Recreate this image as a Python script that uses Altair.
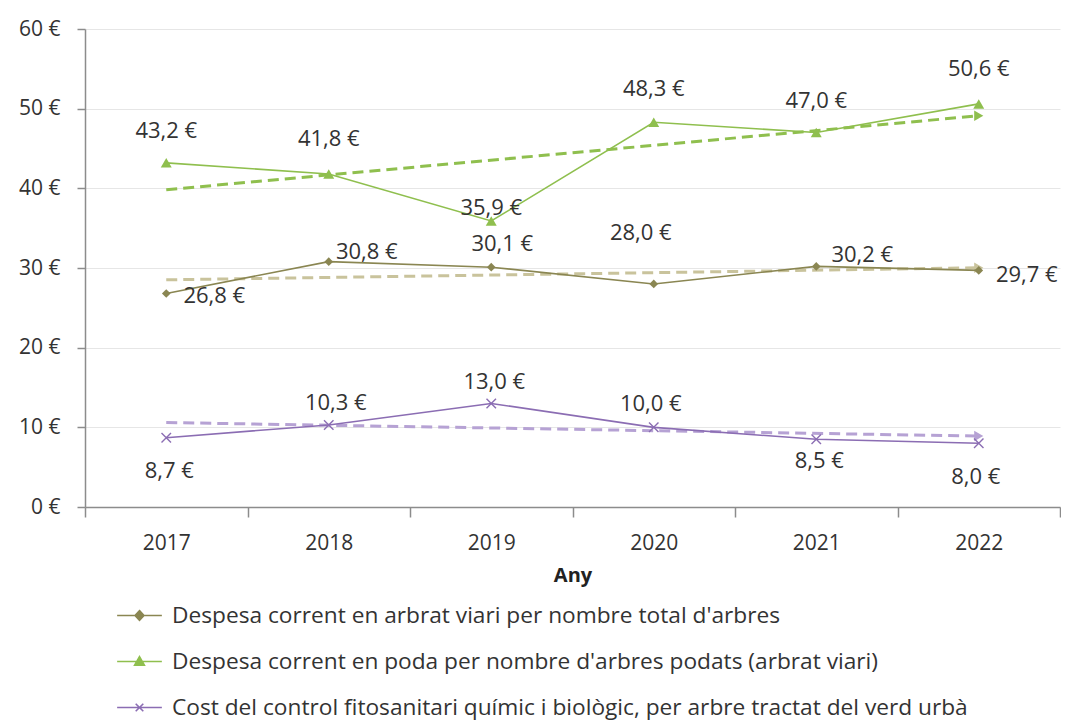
import altair as alt
import pandas as pd

# ---- data ----
years = [2017, 2018, 2019, 2020, 2021, 2022]
series_names = [
    "Despesa corrent en arbrat viari per nombre total d'arbres",
    "Despesa corrent en poda per nombre d'arbres podats (arbrat viari)",
    "Cost del control fitosanitari químic i biològic, per arbre tractat del verd urbà",
]
despesa_total = [26.8, 30.8, 30.1, 28.0, 30.2, 29.7]
despesa_poda = [43.2, 41.8, 35.9, 48.3, 47.0, 50.6]
cost_fitosanitari = [8.7, 10.3, 13.0, 10.0, 8.5, 8.0]

# ---- label placement (pixel offsets relative to the point) ----
label_dx = [
    [48, 38, 11, -13, 46, 48],
    [0, 0, 0, 0, 0, 0],
    [3, 7, 3, -3, 3, -3],
]
label_dy = [
    [3, -10, -23, -51, -11, 5],
    [-32, -35, -13, -33, -32, -35],
    [33, -22, -21, -23, 22, 34],
]

line_colors = ["#8a8652", "#8fbf4e", "#8b6db3"]
trend_colors = ["#c9c39c", "#8fbf4e", "#b6a2d4"]
FONT = "Open Sans"

rows = []
for s, vals in zip(series_names, [despesa_total, despesa_poda, cost_fitosanitari]):
    for y, v in zip(years, vals):
        rows.append({"serie": s, "year": y, "value": v,
                     "label": f"{v:.1f}".replace(".", ",") + " €"})
df = pd.DataFrame(rows)

base = alt.Chart(df)
x_enc = alt.X("year:O", title="Any",
              axis=alt.Axis(labelAngle=0, tickBand="extent", tickSize=10,
                            labelPadding=15, titlePadding=12,
                            domainColor="#8c8c8c", tickColor="#8c8c8c",
                            domainWidth=1.5, tickWidth=1.5,
                            labelFontSize=21, titleFontSize=20, titleFontWeight="bold",
                            labelColor="#333333", titleColor="#222222",
                            labelFont=FONT, titleFont=FONT))
y_enc = alt.Y("value:Q", title=None,
              scale=alt.Scale(domain=[0, 60], nice=False),
              axis=alt.Axis(values=[0, 10, 20, 30, 40, 50, 60],
                            labelExpr="datum.value + ' €'",
                            tickSize=8, labelPadding=17,
                            domainColor="#8c8c8c", tickColor="#8c8c8c",
                            domainWidth=1.5, tickWidth=1.5,
                            gridColor="#e6e6e6", gridWidth=1,
                            labelFontSize=21, labelColor="#333333", labelFont=FONT))

layers = []

# trend lines (linear regression computed by Vega-Lite)
for i, s in enumerate(series_names):
    tr = base.transform_filter(alt.datum.serie == s).transform_regression(
        "year", "value")
    layers.append(tr.mark_line(strokeDash=[11, 6], strokeWidth=3,
                               color=trend_colors[i]).encode(x=x_enc, y=y_enc))
    layers.append(tr.transform_filter("datum.year > 2021.5").mark_point(
        shape="triangle-right", filled=True, size=110, opacity=1,
        color=trend_colors[i]).encode(x=x_enc, y=y_enc))

# series lines
for i, s in enumerate(series_names):
    layers.append(base.transform_filter(alt.datum.serie == s).mark_line(
        strokeWidth=1.6, color=line_colors[i]).encode(x=x_enc, y=y_enc))

# markers
marker_shapes = ["diamond", "triangle-up", "M-1,-1L1,1M-1,1L1,-1"]
marker_sizes = [75, 120, 90]
for i, s in enumerate(series_names):
    filled = i < 2
    layers.append(base.transform_filter(alt.datum.serie == s).mark_point(
        shape=marker_shapes[i], size=marker_sizes[i], filled=filled,
        strokeWidth=1.4, opacity=1, color=line_colors[i]).encode(x=x_enc, y=y_enc))

# data labels
for i, s in enumerate(series_names):
    for j, yv in enumerate(years):
        layers.append(base.transform_filter(
            (alt.datum.serie == s) & (alt.datum.year == yv)).mark_text(
            dx=label_dx[i][j], dy=label_dy[i][j], fontSize=22, font=FONT,
            color="#333333", align="center", baseline="middle").encode(
            x=x_enc, y=y_enc, text="label:N"))

# legend-only layer (no visible points; legend shows line + marker symbols)
legend_paths = [
    "M-1,0H1M0,-0.22L0.2,0L0,0.22L-0.2,0Z",
    "M-1,0H1M0,-0.22L0.22,0.17L-0.22,0.17Z",
    "M-1,0H1M-0.17,-0.17L0.17,0.17M-0.17,0.17L0.17,-0.17",
]
leg_scale_dom = series_names
layers.append(base.transform_filter("false").mark_point(
    filled=True, opacity=1, strokeWidth=1.6).encode(
    x=x_enc, y=y_enc,
    fill=alt.Fill("serie:N", scale=alt.Scale(domain=leg_scale_dom, range=line_colors),
                  legend=alt.Legend(title=None, orient="none", legendX=31, legendY=563,
                                    direction="vertical", symbolSize=2000,
                                    symbolOpacity=1,
                                    symbolStrokeWidth=1.6,
                                    labelFontSize=22.7, labelFont=FONT,
                                    labelColor="#333333", labelLimit=1000,
                                    rowPadding=10, labelOffset=9)),
    stroke=alt.Stroke("serie:N", scale=alt.Scale(domain=leg_scale_dom, range=line_colors)),
    shape=alt.Shape("serie:N", scale=alt.Scale(domain=leg_scale_dom, range=legend_paths)),
))

chart = alt.layer(*layers).properties(
    width=975, height=478,
    padding={"left": 10, "top": 10, "right": 0, "bottom": 0},
).configure_view(stroke=None)

chart.save("out.html", embed_options={"renderer": "svg", "actions": False})
